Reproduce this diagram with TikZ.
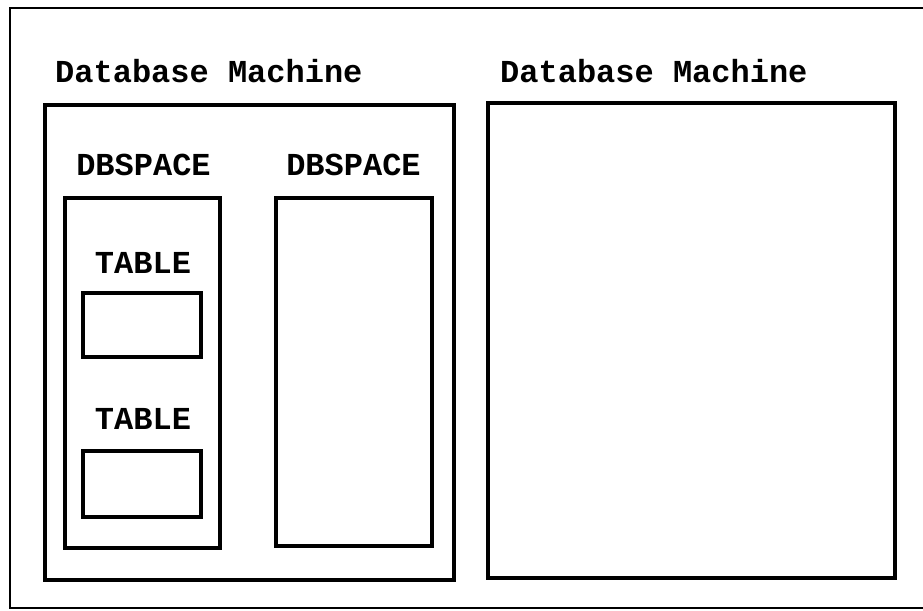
\documentclass[tikz,border=0pt]{standalone}
\usepackage{fontspec}
\setmonofont{Liberation Mono}
\begin{document}
\begin{tikzpicture}[x=1pt,y=-1pt,
  box/.style={draw,line width=3.2pt,rectangle,inner sep=0pt},
  lbl/.style={font=\ttfamily\bfseries\fontsize{32}{36}\selectfont,inner sep=0pt},
  frame/.style={line width=2.4pt}]
\useasboundingbox (0,0) rectangle (923,610);
% outer frame, open past the right edge
\draw[frame] (10,8) rectangle (935,608);
% first database machine
\node[lbl,anchor=base west] (dm1lbl) at (55,82) {Database Machine};
\node[box,minimum width=409pt,minimum height=475pt] (dm1) at (249.5,342.5) {};
% second database machine
\node[lbl,anchor=base west] (dm2lbl) at (500,82) {Database Machine};
\node[box,minimum width=407pt,minimum height=475pt] (dm2) at (691.5,340.5) {};
% dbspaces
\node[lbl,anchor=base] (ds1lbl) at (143.5,175) {DBSPACE};
\node[box,minimum width=155pt,minimum height=350pt] (ds1) at (142.5,373) {};
\node[lbl,anchor=base] (ds2lbl) at (353.5,175) {DBSPACE};
\node[box,minimum width=156pt,minimum height=348pt] (ds2) at (354,372) {};
% tables
\node[lbl,anchor=base] (t1lbl) at (143,273) {TABLE};
\node[box,minimum width=118pt,minimum height=64pt] (t1) at (142,325) {};
\node[lbl,anchor=base] (t2lbl) at (143,429) {TABLE};
\node[box,minimum width=118pt,minimum height=66pt] (t2) at (142,484) {};
\end{tikzpicture}
\end{document}
